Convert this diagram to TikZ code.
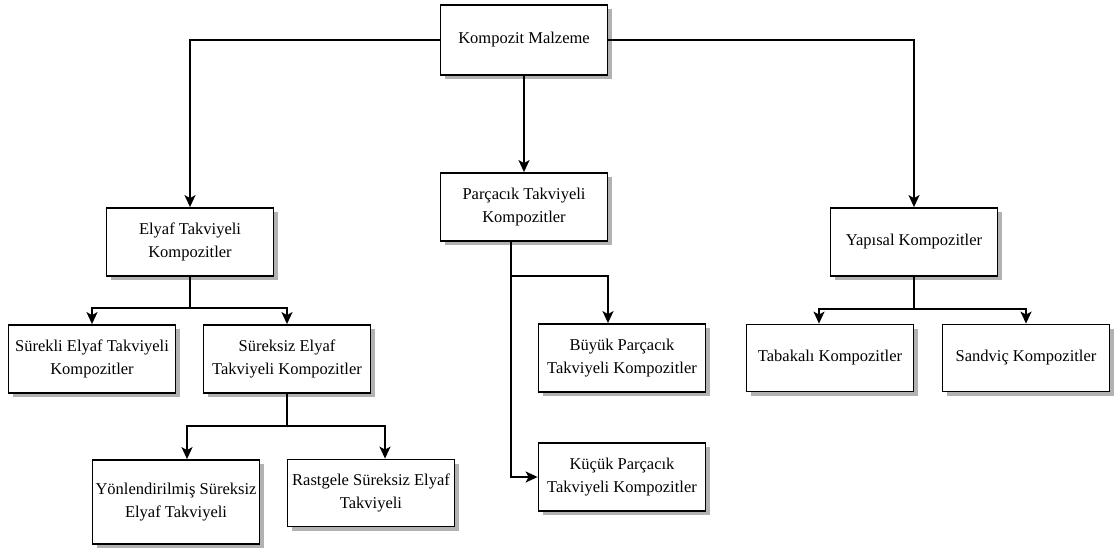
\documentclass[tikz,border=0pt]{standalone}
\usepackage{fontspec}
\setmainfont{Liberation Serif}
\usetikzlibrary{arrows.meta,shadows}

\begin{document}
\begin{tikzpicture}[x=1pt,y=-1pt,
  every node/.style={font=\fontsize{16.5}{22.5}\selectfont,inner sep=3pt},
  kutu/.style={draw=black,line width=1.8pt,fill=white,minimum width=167pt,minimum height=68pt,align=center,
    drop shadow={shadow xshift=4pt,shadow yshift=-4pt,opacity=0.55,fill=black!55}},
  e/.style={-{Stealth[length=12pt,width=11pt,inset=3pt]},line width=1.7pt},
]
\useasboundingbox (0,0) rectangle (1120,554);

% Root
\node[kutu,minimum height=70pt] (KM) at (524,40) {Kompozit Malzeme};

% Level 1
\node[kutu] (ETK) at (190,242) {Elyaf Takviyeli\\Kompozitler};
\node[kutu] (PTK) at (524,207) {Parçacık Takviyeli\\Kompozitler};
\node[kutu] (YK)  at (914,242) {Yapısal Kompozitler};

\draw[e] (KM.west)  -| (ETK.north);
\draw[e] (KM.south) -- (PTK.north);
\draw[e] (KM.east)  -| (YK.north);

% Elyaf branch
\node[kutu] (SETK)  at (92,359)  {Sürekli Elyaf Takviyeli\\Kompozitler};
\node[kutu] (SZETK) at (287,359) {Süreksiz Elyaf\\Takviyeli Kompozitler};

\draw[e] (ETK.south) -- ++(0,31) -| (SETK.north);
\draw[e] (ETK.south) -- ++(0,31) -| (SZETK.north);

\node[kutu,minimum height=84pt] (YSE) at (176,502) {Yönlendirilmiş Süreksiz\\Elyaf Takviyeli};
\node[kutu,minimum height=67pt] (RSE) at (371,493) {Rastgele Süreksiz Elyaf\\Takviyeli};

\draw[e] (SZETK.south) -- ++(0,32) -| ([xshift=11pt]YSE.north);
\draw[e] (SZETK.south) -- ++(0,32) -| ([xshift=14pt]RSE.north);

% Parcacik branch
\node[kutu] (BPTK) at (622,358) {Büyük Parçacık\\Takviyeli Kompozitler};
\node[kutu] (KPTK) at (622,477) {Küçük Parçacık\\Takviyeli Kompozitler};

\draw[e] ([xshift=-13pt]PTK.south) -- ++(0,34) -| ([xshift=-14pt]BPTK.north);
\draw[e] ([xshift=-13pt]PTK.south) |- (KPTK.west);

% Yapisal branch
\node[kutu,minimum height=67pt] (TK) at (830,358)  {Tabakalı Kompozitler};
\node[kutu,minimum height=67pt] (SK) at (1026,358) {Sandviç Kompozitler};

\draw[e] (YK.south) -- ++(0,32) -| ([xshift=-11pt]TK.north);
\draw[e] (YK.south) -- ++(0,32) -| (SK.north);
\end{tikzpicture}
\end{document}
